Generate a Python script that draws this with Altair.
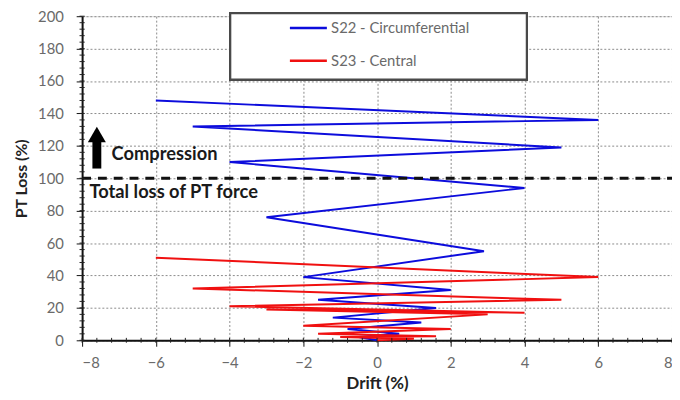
import altair as alt
import pandas as pd

# Blue series S22 - Circumferential (drift %, PT loss %), in loading order
s22_drift = [0, -0.5, 0.6, -0.8, 1.2, -1.2, 1.6, -1.6, 2.0, -2.0, 2.9, -3.0, 4.0, -4.0, 5.0, -5.0, 6.0, -6.0]
s22_loss = [0, 2, 4, 7, 11, 14, 20, 25, 31, 39, 55, 76, 94, 110, 119, 132, 136, 148]

# Red series S23 - Central
s23_drift = [0, 1.0, -1.0, 1.6, -1.6, 2.0, -2.0, 3.0, -3.0, 4.0, -4.0, 5.0, -5.0, 6.0, -6.0]
s23_loss = [0, 1, 2, 2.5, 4, 7, 9, 16, 19, 17, 21, 25, 32, 39, 51]

series_names = ["S22 - Circumferential", "S23 - Central"]
series_colors = ["#0c0cdc", "#f01010"]

x_major = [-8, -6, -4, -2, 0, 2, 4, 6, 8]
y_major = [0, 20, 40, 60, 80, 100, 120, 140, 160, 180, 200]
x_minor = [round(-8 + 0.4 * i, 2) for i in range(41)]
y_minor = [4 * i for i in range(51)]

rows = []
for i, (d, l) in enumerate(zip(s22_drift, s22_loss)):
    rows.append({"series": series_names[0], "idx": i, "drift": d, "loss": l})
for i, (d, l) in enumerate(zip(s23_drift, s23_loss)):
    rows.append({"series": series_names[1], "idx": i, "drift": d, "loss": l})
df = pd.DataFrame(rows)

FONT = "Lato"
W, H = 597, 328

xs = alt.Scale(domain=[-8, 8], nice=False)
ys = alt.Scale(domain=[0, 200], nice=False)

x_axis = alt.Axis(values=x_major, format="d", title="Drift (%)", grid=True,
                  gridDash=[2, 2], gridColor="#8a8a8a", gridWidth=1, labelOverlap=False,
                  domainColor="#111", domainWidth=2, tickColor="#111", tickSize=6,
                  labelColor="#6a6a6a", labelFontSize=15, labelFont=FONT, labelPadding=10,
                  titleFont=FONT, titleFontSize=17, titleFontWeight="bold", titleColor="#222",
                  titlePadding=5)
y_axis = alt.Axis(values=y_major, format="d", title="PT Loss (%)", grid=True,
                  gridDash=[2, 2], gridColor="#8a8a8a", gridWidth=1, labelOverlap=False,
                  domainColor="#111", domainWidth=2, tickColor="#111", tickSize=6,
                  labelColor="#6a6a6a", labelFontSize=15, labelFont=FONT, labelPadding=13,
                  titleFont=FONT, titleFontSize=16, titleFontWeight="bold", titleColor="#222",
                  titlePadding=8)


def X(field):
    return alt.X(field, scale=xs, axis=x_axis)


def Y(field):
    return alt.Y(field, scale=ys, axis=y_axis)


legend_box = alt.Chart(df).mark_rect(fill="white", stroke="#4a4a4a", strokeWidth=2).encode(
    x=alt.value(150), x2=alt.value(450), y=alt.value(-3), y2=alt.value(64)
)

lines = alt.Chart(df).mark_line(strokeWidth=2).encode(
    x=X("drift:Q"),
    y=Y("loss:Q"),
    order="idx:Q",
    color=alt.Color("series:N",
                    scale=alt.Scale(domain=series_names, range=series_colors),
                    legend=alt.Legend(orient="none", legendX=209, legendY=-8, title=None,
                                      symbolType="stroke", symbolSize=1400, symbolStrokeWidth=2.5,
                                      labelFont=FONT, labelFontSize=15, labelColor="#6a6a6a",
                                      rowPadding=5, padding=0, labelOffset=3)),
)

ref_df = pd.DataFrame({"x1": [-8], "x2": [8], "y": [100]})
dashed = alt.Chart(ref_df).mark_rule(color="#111", strokeWidth=3, strokeDash=[9, 7]).encode(
    x=X("x1:Q"), x2="x2:Q", y=Y("y:Q")
)

arrow_df = pd.DataFrame({"x": [-7.6], "y1": [106], "y2": [125], "yh": [127]})
shaft = alt.Chart(arrow_df).mark_rule(color="black", strokeWidth=9).encode(
    x=X("x:Q"), y=Y("y1:Q"), y2="y2:Q"
)
head = alt.Chart(arrow_df).mark_point(shape="triangle-up", filled=True, color="black",
                                       size=330, opacity=1).encode(
    x=X("x:Q"), y=Y("yh:Q")
)

text_df = pd.DataFrame({"x": [-7.2, -7.8], "y": [115, 91.2],
                        "t": ["Compression", "Total loss of PT force"],
                        "s": [18.5, 18.5]})
texts = alt.Chart(text_df).mark_text(align="left", baseline="middle", font=FONT,
                                      fontWeight="bold", color="#1a1a1a").encode(
    x=X("x:Q"), y=Y("y:Q"), text="t:N",
    size=alt.Size("s:Q", scale=None, legend=None)
)

xm_df = pd.DataFrame({"x": x_minor, "y1": [-1.5] * len(x_minor), "y2": [1.5] * len(x_minor)})
x_minor_ticks = alt.Chart(xm_df).mark_rule(color="#222", strokeWidth=1).encode(
    x=X("x:Q"), y=Y("y1:Q"), y2="y2:Q"
)
ym_df = pd.DataFrame({"y": y_minor, "x1": [-8.07] * len(y_minor), "x2": [-7.93] * len(y_minor)})
y_minor_ticks = alt.Chart(ym_df).mark_rule(color="#222", strokeWidth=1).encode(
    y=Y("y:Q"), x=X("x1:Q"), x2="x2:Q"
)

chart = alt.layer(
    legend_box, lines, dashed, shaft, head, texts, x_minor_ticks, y_minor_ticks
).properties(
    width=W, height=H,
    autosize=alt.AutoSizeParams(type="none"),
    padding={"left": 75, "top": 6, "right": 0, "bottom": 50},
).configure_view(stroke="#333", strokeWidth=1.5).configure(background="white")

chart.save("out.html", embed_options={"renderer": "svg", "actions": False})
